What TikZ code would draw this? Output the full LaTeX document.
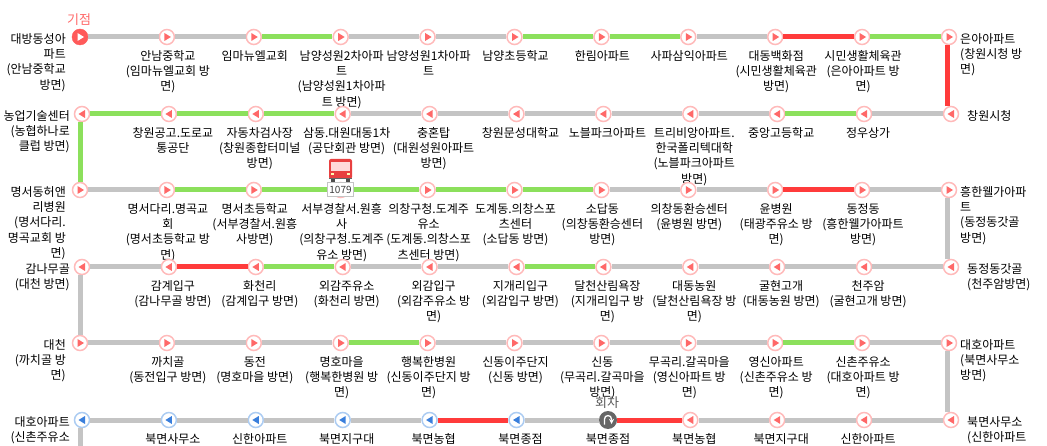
\documentclass[tikz,border=0pt]{standalone}
\usepackage{xcolor}
\usepackage{fontspec}
\usepackage{tikz}
\setmainfont{Noto Sans CJK KR}
\definecolor{gy}{RGB}{196, 196, 196}
\definecolor{gn}{RGB}{140, 224, 92}
\definecolor{rd}{RGB}{255, 59, 59}
\definecolor{pinkring}{RGB}{255, 186, 186}
\definecolor{pinkarrow}{RGB}{255, 104, 104}
\definecolor{bluering}{RGB}{172, 204, 242}
\definecolor{bluearrow}{RGB}{58, 127, 220}
\definecolor{startred}{RGB}{255, 90, 90}
\definecolor{busred}{RGB}{232, 64, 64}
\pgfdeclarelayer{labels}
\pgfsetlayers{labels,main}
\tikzset{
    stopbase/.style={circle, fill=white, line width=1.5pt, minimum size=15pt, inner sep=0pt},
    stopnext/.style={stopbase, draw=pinkring, path picture={
        \fill[pinkarrow] ([shift={(-2.5pt,4pt)}]path picture bounding box.center)
            -- ++(6.5pt,-4pt) -- ++(-6.5pt,-4pt) -- cycle;}},
    stopback/.style 2 args={stopbase, draw=#1, path picture={
        \fill[#2] ([shift={(3pt,4pt)}]path picture bounding box.center)
            -- ++(-6.5pt,-4pt) -- ++(6.5pt,-4pt) -- cycle;}},
    stopstart/.style={circle, fill=startred, draw=startred, minimum size=16pt, inner sep=0pt, path picture={
        \fill[white] ([shift={(-2.5pt,4pt)}]path picture bounding box.center)
            -- ++(6.5pt,-4pt) -- ++(-6.5pt,-4pt) -- cycle;}},
    stopturn/.style={circle, fill=black!60, minimum size=18pt, inner sep=0pt},
    textfont/.style={font=\fontsize{12}{15.3}\selectfont, inner sep=0pt},
    bigfont/.style={font=\fontsize{13}{15}\selectfont, inner sep=0pt},
    midname/.style={textfont, align=center, anchor=north},
    leftname/.style={textfont, align=right, anchor=north east},
    rightname/.style={textfont, align=left, anchor=north west},
    routeline/.style={line width=5pt},
}
\begin{document}
\begin{tikzpicture}[x=1pt,y=-1pt]
    \useasboundingbox (0,0) rectangle (1047,446);

    % Stops, rows going right
    \node[stopstart] (a1) at (80,37) {};
    \foreach \n in {2,...,11}
        \node[stopnext] (a\n) at ({80+86.9*(\n-1)},37) {};
    \foreach \r/\y in {c/190,e/343}
        \foreach \n in {1,...,11}
            \node[stopnext] (\r\n) at ({80+86.9*(\n-1)},\y) {};

    % Stops, rows going left
    \foreach \r/\y in {b/114,d/267}
        \foreach \n in {1,...,11}
            \node[stopback={pinkring}{pinkarrow}] (\r\n) at ({82+86.9*(\n-1)},\y) {};
    \foreach \n in {1,...,6}
        \node[stopback={bluering}{bluearrow}] (f\n) at ({82+86.9*(\n-1)},420) {};
    \node[stopturn] (f7) at (608,420) {};
    \foreach \n in {8,...,11}
        \node[stopback={pinkring}{pinkarrow}] (f\n) at ({82+86.9*(\n-1)},420) {};

    % Stop names
    \begin{pgfonlayer}{labels}
    \foreach \n/\t in {
        1/{안남중학교\\(임마뉴엘교회 방\\면)}, 2/{임마뉴엘교회},
        3/{남양성원2차아파\\트\\(남양성원1차아파\\트 방면)}, 4/{남양성원1차아파\\트},
        5/{남양초등학교}, 6/{한림아파트}, 7/{사파삼익아파트},
        8/{대동백화점\\(시민생활체육관\\방면)}, 9/{시민생활체육관\\(은아아파트 방\\면)}}
        {\pgfmathtruncatemacro\m{\n+1}
         \node[midname] (na\m) at ([shift={(1pt,-13pt)}]a\m.center) {\t};}
    \foreach \n/\t in {
        2/{창원공고.도로교\\통공단}, 3/{자동차검사장\\(창원종합터미널\\방면)},
        4/{삼동.대원대동1차\\(공단회관 방면)}, 5/{충혼탑\\(대원성원아파트\\방면)},
        6/{창원문성대학교}, 7/{노블파크아파트},
        8/{트리비앙아파트.\\한국폴리텍대학\\(노블파크아파트\\방면)},
        9/{중앙고등학교}, 10/{정우상가}}
        \node[midname] (nb\n) at ([shift={(4pt,-13pt)}]b\n.center) {\t};
    \foreach \n/\t in {
        2/{명서다리.명곡교\\회\\(명서초등학교 방\\면)}, 3/{명서초등학교\\(서부경찰서.원흥\\사방면)},
        4/{서부경찰서.원흥\\사\\(의창구청.도계주\\유소 방면)},
        5/{의창구청.도계주\\유소\\(도계동.의창스포\\츠센터 방면)},
        6/{도계동.의창스포\\츠센터\\(소답동 방면)}, 7/{소답동\\(의창동환승센터\\방면)},
        8/{의창동환승센터\\(윤병원 방면)}, 9/{윤병원\\(태광주유소 방\\면)},
        10/{동정동\\(흥한웰가아파트\\방면)}}
        \node[midname] (nc\n) at ([shift={(1pt,-13pt)}]c\n.center) {\t};
    \foreach \n/\t in {
        2/{감계입구\\(감나무골 방면)}, 3/{화천리\\(감계입구 방면)},
        4/{외감주유소\\(화천리 방면)}, 5/{외감입구\\(외감주유소 방\\면)},
        6/{지개리입구\\(외감입구 방면)}, 7/{달천산림욕장\\(지개리입구 방\\면)},
        8/{대동농원\\(달천산림욕장 방\\면)}, 9/{굴현고개\\(대동농원 방면)},
        10/{천주암\\(굴현고개 방면)}}
        \node[midname] (nd\n) at ([shift={(4pt,-13pt)}]d\n.center) {\t};
    \foreach \n/\t in {
        2/{까치골\\(동전입구 방면)}, 3/{동전\\(명호마을 방면)},
        4/{명호마을\\(행복한병원 방\\면)}, 5/{행복한병원\\(신동이주단지 방\\면)},
        6/{신동이주단지\\(신동 방면)}, 7/{신동\\(무곡리.갈곡마을\\방면)},
        8/{무곡리.갈곡마을\\(영신아파트 방\\면)}, 9/{영신아파트\\(신촌주유소 방\\면)},
        10/{신촌주유소\\(대호아파트 방\\면)}}
        \node[midname] (ne\n) at ([shift={(1pt,-13pt)}]e\n.center) {\t};
    \foreach \n/\t in {
        2/{북면사무소}, 3/{신한아파트}, 4/{북면지구대}, 5/{북면농협}, 6/{북면종점},
        8/{북면농협}, 9/{북면지구대}, 10/{신한아파트}}
        \node[midname] (nf\n) at ([shift={(4pt,-13pt)}]f\n.center) {\t};
    \node[midname] (nf7) at ([shift={(0pt,-13pt)}]f7.center) {북면종점};

    % End names, left side
    \foreach \r/\dx/\t in {
        a/-14/{대방동성아\\파트\\(안남중학교\\방면)}, b/-12/{농업기술센터\\(농협하나로\\클럽 방면)},
        c/-14/{명서동허앤\\리병원\\(명서다리.\\명곡교회 방\\면)}, d/-12/{감나무골\\(대천 방면)},
        e/-14/{대천\\(까치골 방\\면)}, f/-12/{대호아파트\\(신촌주유소}}
        \node[leftname] (n\r1) at ([shift={(\dx pt,4pt)}]\r1.center) {\t};

    % End names, right side
    \foreach \r/\dx/\t in {
        a/11/{은아아파트\\(창원시청 방\\면)}, b/16/{창원시청},
        c/11/{흥한웰가아파\\트\\(동정동갓골\\방면)}, d/16/{동정동갓골\\(천주암방면)},
        e/11/{대호아파트\\(북면사무소\\방면)}, f/16/{북면사무소\\(신한아파트}}
        \node[rightname] (n\r11) at ([shift={(\dx pt,4pt)}]\r11.center) {\t};
    \end{pgfonlayer}

    % Route sections
    \foreach \r/\cols in {
        a/{gy,gy,gn,gy,gy,gn,gn,gy,rd,gn},
        b/{gn,gn,gn,gy,gy,gy,gy,gy,gn,gy},
        c/{gy,gn,gn,gn,gn,gn,gy,gy,rd,gy},
        d/{gy,rd,gn,gy,gy,gn,gy,gy,gy,gy},
        e/{gy,gy,gy,gn,gy,gy,gy,gy,gn,gy},
        f/{gy,gy,gy,gy,rd,gy,rd,gy,gy,gy}}
        \foreach \c [count=\n] in \cols {
            \pgfmathtruncatemacro\m{\n+1}
            \draw[routeline,\c] (\r\n) -- (\r\m);
        }

    % Turns between rows
    \coordinate (fend) at (80,450);
    \draw[routeline,rd] ([xshift=-2pt]a11.south) -- ([xshift=-4pt]b11.north);
    \draw[routeline,gn] ([xshift=-2pt]b1.south) -- (c1.north);
    \draw[routeline,gy] ([xshift=-2pt]c11.south) -- ([xshift=-4pt]d11.north);
    \draw[routeline,gy] ([xshift=-2pt]d1.south) -- (e1.north);
    \draw[routeline,gy] ([xshift=-2pt]e11.south) -- ([xshift=-4pt]f11.north);
    \draw[routeline,gy] ([xshift=-2pt]f1.south) -- (fend);

    % Start and turning point
    \node[bigfont, text=pinkarrow] (startname) at ([shift={(-1pt,17pt)}]a1.center) {기점};
    \node[bigfont, text=black!65] (turnname) at ([shift={(-1pt,17pt)}]f7.center) {회차};
    \draw[white, line width=1.3pt, ->, >=stealth] ([shift={(-3.5pt,-4.5pt)}]f7.center)
        -- ++(0pt,5.5pt) arc[start angle=180, end angle=0, radius=3.5pt]
        -- ++(0pt,-5pt);

    % Bus on row 3
    \fill[busred, rounded corners=2pt] (329,159) rectangle (352,179);
    \fill[black!70] (331,178) rectangle (335,182);
    \fill[black!70] (346,178) rectangle (350,182);
    \fill[red!15] (331,162) rectangle (350,171);
    \fill[black!60] (329,178) rectangle (352,179);
    \fill[yellow!30] (331,173) rectangle (334,175);
    \fill[yellow!30] (347,173) rectangle (350,175);
    \node[draw=gy, fill=white, line width=1pt, minimum width=26pt, minimum height=14pt, inner sep=0pt,
        text=black!75, font=\fontsize{10}{12}\selectfont] (busno) at (340.5,190) {1079};
\end{tikzpicture}
\end{document}
